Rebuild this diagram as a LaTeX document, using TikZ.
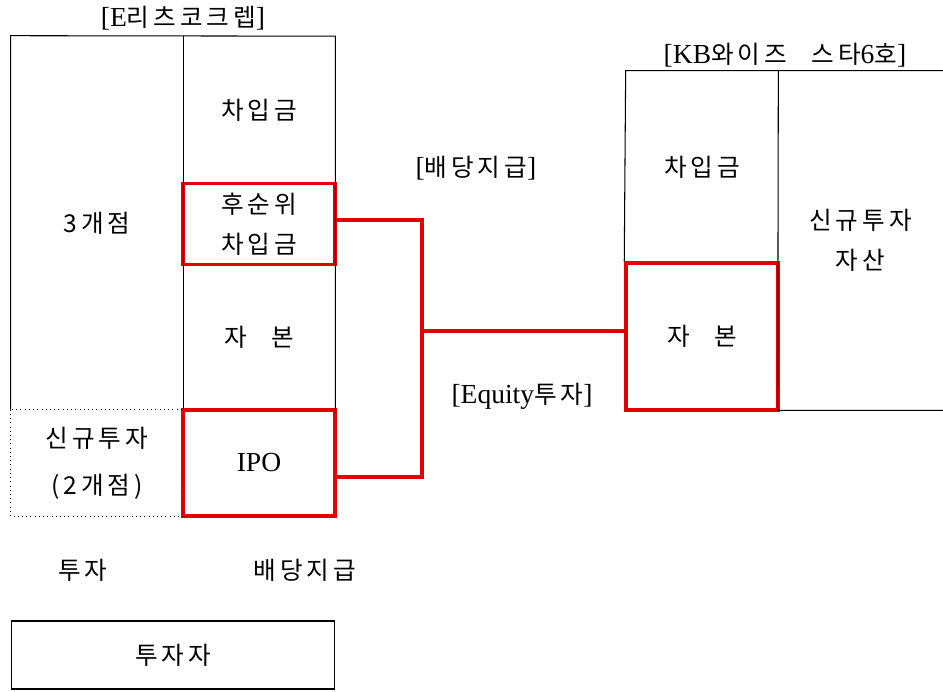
\documentclass[tikz,border=0pt]{standalone}
\usepackage{fontspec}
\setmainfont{Liberation Serif}[Scale=1.12]
\newfontfamily\kr[LetterSpace=16]{Noto Sans CJK KR}
\usetikzlibrary{calc}
\definecolor{boxred}{RGB}{226,0,0}
\tikzset{ cell/.style = {rectangle, inner sep=0pt, align=center, font=\fontsize{14}{23}\selectfont\kr} }
\tikzset{ red_cell/.style = {cell, draw=boxred, line width=2pt} }
\tikzset{ frame/.style = {line width=0.6pt} }
\tikzset{ link/.style = {draw=boxred, line width=2pt} }
\begin{document}
\begin{tikzpicture}[x=0.02cm, y=-0.02cm]
                        \useasboundingbox (0,0) rectangle (943,691);
                        \node[cell] (ttl1) at (183,18) {{\rmfamily[E}리츠코크렙{\rmfamily]}};
                        \node[cell, minimum width=3.44cm, minimum height=7.48cm] (stores) at (97,223) {3개점};
                        \node[cell, minimum width=3.44cm, minimum height=2.12cm] (newinv) at (97,463) {신규투자\\[4pt](2개점)};
                        \node[cell, minimum width=3.04cm, minimum height=2.94cm] (loan) at (259,110) {차입금};
                        \node[red_cell, minimum width=3.04cm, minimum height=1.62cm] (subloan) at (259,224) {후순위\\차입금};
                        \node[cell, minimum width=3.04cm, minimum height=2.92cm] (equity) at (259,337) {자\quad 본};
                        \node[red_cell, minimum width=3.04cm, minimum height=2.12cm] (ipo) at (259,463) {\rmfamily IPO};
                        \draw[frame] (newinv.north west) -- (stores.north west) -- (loan.north east) -- (equity.south east);
                        \draw[frame] (stores.north east) -- (stores.south east);
                        \draw[dotted] (newinv.north west) rectangle (newinv.south east);
                        \node[cell] (ttl2) at (785,55) {{\rmfamily[KB}와이즈\quad 스타{\rmfamily 6}호{\rmfamily]}};
                        \node[cell, minimum width=3.04cm, minimum height=3.84cm] (kloan) at (702,167) {차입금};
                        \node[red_cell, minimum width=3.04cm, minimum height=2.94cm] (kcap) at (702,336.5) {자\quad 본};
                        \node[cell, minimum width=3.3cm, minimum height=6.78cm] (asset) at (860.5,240.5) {신규투자\\자산};
                        \draw[frame] (kcap.north west) -- (kloan.north west) -- (asset.north east);
                        \draw[frame] (kloan.north east) -- (asset.south west) -- (asset.south east);
                        \node[cell] (divlbl) at (476,168) {{\rmfamily[}배당지급{\rmfamily]}};
                        \node[cell] (eqlbl) at (522,396) {{\rmfamily[Equity}투자{\rmfamily]}};
                        \coordinate (j) at (422,331);
                        \draw[link] ($(subloan.east)+(0,-4)$) -| (j) |- ($(ipo.east)+(0,14)$);
                        \draw[link] (j) -- (j -| kcap.west);
                        \node[cell] (inv) at (83,570) {투자};
                        \node[cell] (div) at (305,570) {배당지급};
                        \node[cell, draw, line width=0.6pt, minimum width=6.48cm, minimum height=1.36cm] (investor) at (173,655) {투자자};
                \end{tikzpicture}
\end{document}
